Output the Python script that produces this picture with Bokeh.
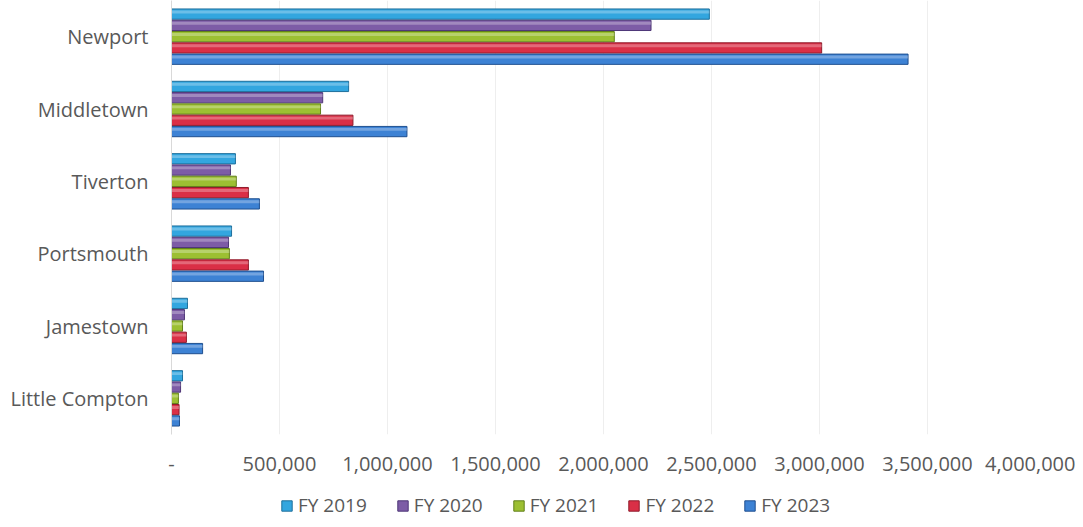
from bokeh.plotting import figure
from bokeh.models import (ColumnDataSource, FactorRange, Range1d, FixedTicker,
                          CustomJSTickFormatter, Legend, LegendItem)
from bokeh.layouts import column
from bokeh.transform import dodge
from bokeh.embed import file_html
from bokeh.resources import INLINE

cities = ["Newport", "Middletown", "Tiverton", "Portsmouth", "Jamestown", "Little Compton"]
series_names = ["FY 2019", "FY 2020", "FY 2021", "FY 2022", "FY 2023"]
fy2019 = [2490000, 820000, 296000, 278000, 74000, 51000]
fy2020 = [2220000, 700000, 273000, 264000, 60000, 42000]
fy2021 = [2050000, 690000, 300000, 268000, 51000, 32000]
fy2022 = [3010000, 840000, 356000, 356000, 69000, 35000]
fy2023 = [3410000, 1090000, 407000, 426000, 144000, 37000]
x_ticks = [0, 500000, 1000000, 1500000, 2000000, 2500000, 3000000, 3500000, 4000000]

colors = ["#33a6df", "#7d5ca6", "#9cbf32", "#da2f46", "#3d82d4"]
edges = ["#1d6f9c", "#4e3677", "#62801a", "#8f1a2a", "#1f4f8f"]

src = ColumnDataSource(dict(city=cities, s0=fy2019, s1=fy2020, s2=fy2021, s3=fy2022, s4=fy2023))

p = figure(width=1075, height=480, output_backend="svg", toolbar_location=None,
           y_range=FactorRange(factors=cities[::-1], range_padding=0),
           x_range=Range1d(0, 4000000),
           min_border_left=171, min_border_right=40, min_border_top=0, min_border_bottom=46)

q = figure(width=1075, height=40, output_backend="svg", toolbar_location=None,
           y_range=FactorRange(factors=cities[::-1]), x_range=Range1d(0, 1),
           min_border=0)

pitch = 0.156
items = []
for i, name in enumerate(series_names):
    off = (2 - i) * pitch
    p.hbar(y=dodge("city", off, range=p.y_range), right=f"s{i}", left=0, height=0.142,
           source=src, fill_color=colors[i], line_color=edges[i], line_width=1)
    p.hbar(y=dodge("city", off + 0.03, range=p.y_range), right=f"s{i}", left=0, height=0.04,
           source=src, fill_color="white", fill_alpha=0.28, line_color=None)
    r = q.hbar(y="city", right=f"s{i}", left=0, height=0.142, source=src,
               fill_color=colors[i], line_color=edges[i], line_width=1, visible=False)
    items.append(LegendItem(label=name, renderers=[r]))

legend = Legend(items=items, orientation="horizontal", location=(109, 2),
                glyph_width=13, glyph_height=13, label_standoff=5, spacing=29,
                padding=0, margin=0, border_line_color=None, background_fill_alpha=0,
                label_text_font="Open Sans", label_text_font_size="19px",
                label_text_color="#595959")
q.add_layout(legend, "center")
q.axis.visible = False
q.grid.grid_line_color = None
q.outline_line_color = None

p.xaxis.ticker = FixedTicker(ticks=x_ticks)
p.xaxis.formatter = CustomJSTickFormatter(code="return tick == 0 ? '-' : tick.toLocaleString('en-US');")
p.xaxis.axis_line_color = None
p.xaxis.major_tick_line_color = None
p.xaxis.minor_tick_line_color = None
p.xaxis.major_label_standoff = 16
p.yaxis.axis_line_color = "#d9d9d9"
p.yaxis.major_tick_line_color = None
p.yaxis.minor_tick_line_color = None
p.yaxis.major_label_standoff = 17
for ax in (p.xaxis, p.yaxis):
    ax.major_label_text_font = "Open Sans"
    ax.major_label_text_font_size = "20px"
    ax.major_label_text_color = "#595959"

p.ygrid.grid_line_color = None
p.xgrid.grid_line_color = "#eeeeee"
p.xgrid.ticker = FixedTicker(ticks=x_ticks)
p.outline_line_color = None

open("out.html", "w").write(file_html(column(p, q), INLINE))
